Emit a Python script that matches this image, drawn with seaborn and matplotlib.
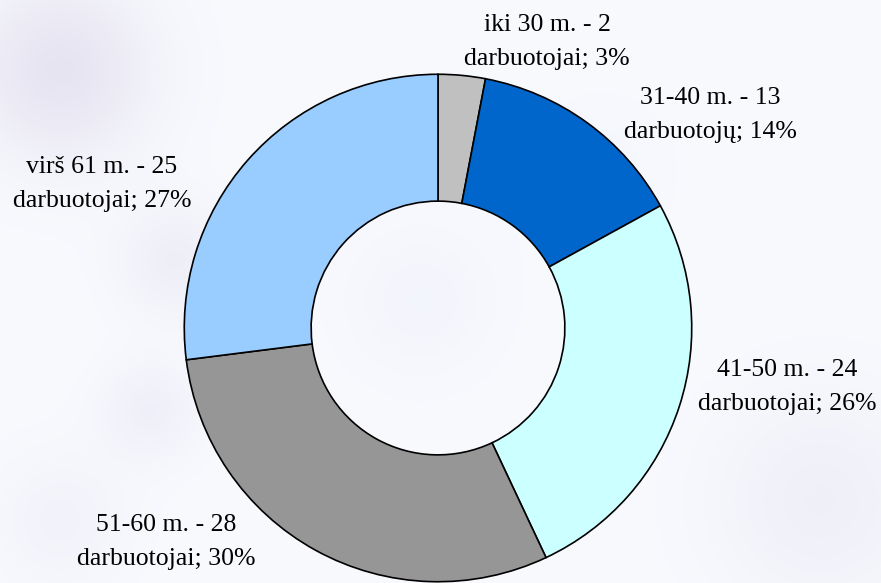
import numpy as np
import matplotlib
matplotlib.use("Agg")
import matplotlib.pyplot as plt
import seaborn as sns

# Employees by age group
groups = ["iki 30 m.", "31-40 m.", "41-50 m.", "51-60 m.", "virš 61 m."]
counts = [2, 13, 24, 28, 25]
shares = [3, 14, 26, 30, 27]          # percent of staff, as labelled
nouns = ["darbuotojai", "darbuotojų", "darbuotojai", "darbuotojai", "darbuotojai"]
colors = ["#C0C0C0", "#0066CC", "#CCFFFF", "#969696", "#99CCFF"]

# label block centres (figure pixels, from top-left)
label_pos = [(547, 42), (710, 115), (787, 387), (166, 542), (102, 184)]

sns.set_theme(style="white")
plt.rcParams["font.family"] = ["Liberation Serif", "DejaVu Serif"]

W, H = 881, 583
fig = plt.figure(figsize=(W / 100, H / 100), dpi=100)
fig.patch.set_facecolor("#F8F9FC")

# soft, faded backdrop
bg = fig.add_axes([0, 0, 1, 1], zorder=0)
yy, xx = np.mgrid[0:H, 0:W]
img = np.ones((H, W, 3)) * np.array([0.975, 0.98, 0.995])
blobs = [  # x, y, radius, rgb, strength
    (60, 70, 65, (0.74, 0.70, 0.84), 0.30),
    (175, 260, 40, (0.78, 0.76, 0.88), 0.20),
    (150, 410, 35, (0.78, 0.76, 0.90), 0.18),
    (60, 520, 50, (0.80, 0.80, 0.90), 0.14),
    (820, 500, 75, (0.78, 0.76, 0.88), 0.18),
    (420, 300, 55, (0.82, 0.82, 0.94), 0.12),
    (600, 170, 55, (0.86, 0.90, 0.96), 0.12),
]
for bx, by, r, c, s in blobs:
    w = s * np.exp(-((xx - bx) ** 2 + (yy - by) ** 2) / (2 * r ** 2))
    img = img * (1 - w[..., None]) + np.array(c) * w[..., None]
bg.imshow(img, extent=[0, W, H, 0], aspect="auto", interpolation="bilinear")
bg.set_axis_off()

# donut ring
cx, cy, R = 438, 328, 255
ax = fig.add_axes([(cx - R) / W, (H - cy - R) / H, 2 * R / W, 2 * R / H], zorder=1)
ax.pie(shares, colors=colors, startangle=90, counterclock=False, radius=1.0,
       wedgeprops=dict(width=0.5, edgecolor="black", linewidth=1.2))
ax.set_xlim(-1.005, 1.005)
ax.set_ylim(-1.005, 1.005)
ax.set_aspect("equal")
ax.set_axis_off()

for g, n, noun, p, (lx, ly) in zip(groups, counts, nouns, shares, label_pos):
    fig.text(lx / W, 1 - ly / H, f"{g} - {n}\n{noun}; {p}%", ha="center", va="center",
             fontsize=18.5, linespacing=1.65, color="black", zorder=3)

fig.savefig("out.png", dpi=100)
